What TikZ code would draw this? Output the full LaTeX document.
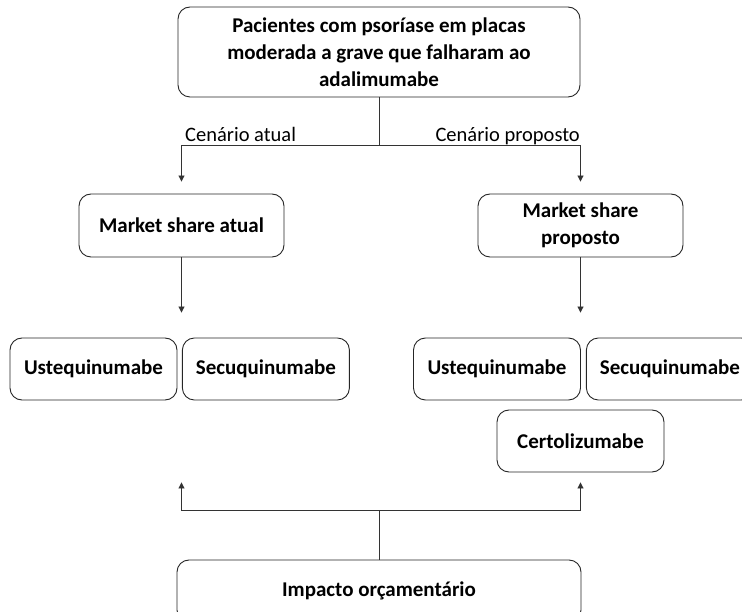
\documentclass[tikz,border=0pt]{standalone}
\usepackage{fontspec}
\setmainfont{Carlito}
\usetikzlibrary{arrows.meta,positioning,calc}

\tikzset{
  box/.style={draw=black!85, rounded corners=12pt, line width=0.9pt, align=center,
    font=\bfseries\fontsize{21}{27}\selectfont, inner sep=0pt},
  drug/.style={box, minimum width=167pt, minimum height=62pt},
  arr/.style={draw=black!80, line width=0.9pt, -{Triangle[width=6pt,length=6pt]}},
  lbl/.style={font=\fontsize{20.5}{24}\selectfont, inner sep=0pt}
}

\begin{document}
\begin{tikzpicture}[x=1pt,y=1pt]
      \clip (0,0) rectangle (742,-612);
      \node[box, minimum width=402pt, minimum height=90pt] at(379,-52)(pac){Pacientes com psoríase em placas\\moderada a grave que falharam ao\\adalimumabe};
      \node[box, minimum width=205pt, minimum height=63pt] at(181.5,-225.5)(msA){Market share atual};
      \node[box, minimum width=205pt, minimum height=63pt] at(580.5,-225.5)(msP){Market share\\proposto};
      \node[drug] at(93.5,-369)(usteA){Ustequinumabe};
      \node[drug, right=4.5pt of usteA](secuA){Secuquinumabe};
      \node[drug] at(497,-369)(usteP){Ustequinumabe};
      \node[drug, right=5pt of usteP](secuP){Secuquinumabe};
      \node[drug] at(580.5,-441)(cert){Certolizumabe};
      \node[box, minimum width=404pt, minimum height=62pt] at(379,-591)(imp){Impacto orçamentário};

      \node[lbl, anchor=base west] at(185,-142)(cenA){Cenário atual};
      \node[lbl, anchor=base east] at(580,-142)(cenP){Cenário proposto};

      \draw[arr, shorten >=12pt] (pac.south) -- ++(0,-48) -| (msA.north);
      \draw[arr, shorten >=12pt] (pac.south) -- ++(0,-48) -| (msP.north);
      \draw[arr, shorten >=25pt] (msA.south) -- (msA |- usteA.north);
      \draw[arr, shorten >=25pt] (msP.south) -- (msP |- usteP.north);
      \coordinate (endA) at (msA |- cert.south);
      \draw[arr, shorten >=10pt] (imp.north) -- ++(0,49) -| (endA);
      \draw[arr, shorten >=10pt] (imp.north) -- ++(0,49) -| (cert.south);
\end{tikzpicture}
\end{document}
